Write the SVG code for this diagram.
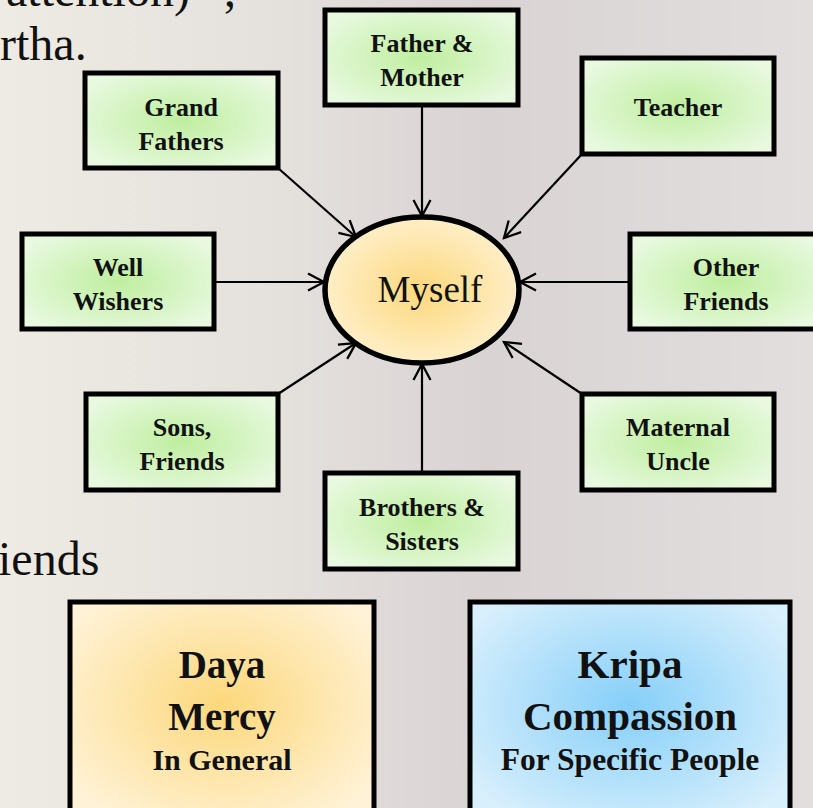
<svg xmlns="http://www.w3.org/2000/svg" width="813" height="808" viewBox="0 0 813 808">
<defs>
<linearGradient id="bg" x1="0" y1="0" x2="1" y2="0">
<stop offset="0" stop-color="#eeebe4"/>
<stop offset="0.35" stop-color="#e4e0dc"/>
<stop offset="0.6" stop-color="#d9d3d4"/>
<stop offset="1" stop-color="#e2dede"/>
</linearGradient>
<radialGradient id="green" cx="0.5" cy="0.5" r="0.6">
<stop offset="0" stop-color="#bfee9f"/>
<stop offset="1" stop-color="#e8f9e0"/>
</radialGradient>
<radialGradient id="gold" cx="0.5" cy="0.5" r="0.55">
<stop offset="0" stop-color="#fcd87c"/>
<stop offset="1" stop-color="#fff1cf"/>
</radialGradient>
<radialGradient id="gold2" cx="0.5" cy="0.45" r="0.6">
<stop offset="0" stop-color="#fcd87c"/>
<stop offset="1" stop-color="#fff2d6"/>
</radialGradient>
<radialGradient id="blue" cx="0.5" cy="0.45" r="0.6">
<stop offset="0" stop-color="#85cff8"/>
<stop offset="1" stop-color="#d8effc"/>
</radialGradient>
<marker id="arr" markerWidth="22" markerHeight="22" refX="17" refY="10" orient="auto" markerUnits="userSpaceOnUse">
<path d="M1,1.5 L17,10 L1,18.5" fill="none" stroke="#000" stroke-width="2.3"/>
</marker>
</defs>
<style>
.box{fill:url(#green);stroke:#000;stroke-width:5}
.lbl{font-family:"Liberation Serif","DejaVu Serif",serif;font-weight:bold;font-size:26px;text-anchor:middle;fill:#111}
.bg{font-family:"Liberation Serif","DejaVu Serif",serif;font-size:48px;fill:#111}
.big{font-family:"Liberation Serif","DejaVu Serif",serif;font-weight:bold;font-size:39px;text-anchor:middle;fill:#111}
.big2{font-size:41px}
.sub{font-family:"Liberation Serif","DejaVu Serif",serif;font-weight:bold;font-size:30px;text-anchor:middle;fill:#111}
.sub2{font-size:31.5px}
.con{stroke:#000;stroke-width:2.2;fill:none;marker-end:url(#arr)}
</style>
<rect x="0" y="0" width="813" height="808" fill="url(#bg)"/>
<text class="bg" x="-22" y="6">r attention)” ;</text>
<text class="bg" x="0" y="60">rtha.</text>
<text class="bg" x="-2" y="575">iends</text>

<g id="connectors">
<line class="con" x1="422" y1="105" x2="422" y2="216"/>
<line class="con" x1="422" y1="473" x2="422" y2="364"/>
<line class="con" x1="214" y1="282" x2="324" y2="282"/>
<line class="con" x1="630" y1="282" x2="520" y2="282"/>
<line class="con" x1="278" y1="168" x2="356" y2="237"/>
<line class="con" x1="582" y1="154" x2="504" y2="238"/>
<line class="con" x1="278" y1="394" x2="356" y2="343"/>
<line class="con" x1="582" y1="394" x2="504" y2="342"/>
</g>

<g id="myself">
<ellipse cx="422" cy="290" rx="97" ry="73" fill="url(#gold)" stroke="#000" stroke-width="5.5"/>
<text x="430" y="302" font-family="Liberation Serif, DejaVu Serif, serif" font-size="37" text-anchor="middle" fill="#111">Myself</text>
</g>

<g id="father-mother">
<rect class="box" x="325" y="10" width="193" height="95"/>
<text class="lbl" x="422" y="52">Father &amp;</text>
<text class="lbl" x="422" y="86">Mother</text>
</g>
<g id="grand-fathers">
<rect class="box" x="85" y="73" width="193" height="95"/>
<text class="lbl" x="181" y="116">Grand</text>
<text class="lbl" x="181" y="150">Fathers</text>
</g>
<g id="teacher">
<rect class="box" x="582" y="58" width="192" height="96"/>
<text class="lbl" x="678" y="116">Teacher</text>
</g>
<g id="well-wishers">
<rect class="box" x="22" y="234" width="192" height="95"/>
<text class="lbl" x="118" y="276">Well</text>
<text class="lbl" x="118" y="310">Wishers</text>
</g>
<g id="other-friends">
<rect class="box" x="630" y="234" width="193" height="95"/>
<text class="lbl" x="726" y="276">Other</text>
<text class="lbl" x="726" y="310">Friends</text>
</g>
<g id="sons-friends">
<rect class="box" x="86" y="394" width="192" height="96"/>
<text class="lbl" x="182" y="436">Sons,</text>
<text class="lbl" x="182" y="470">Friends</text>
</g>
<g id="maternal-uncle">
<rect class="box" x="582" y="394" width="192" height="96"/>
<text class="lbl" x="678" y="436">Maternal</text>
<text class="lbl" x="678" y="470">Uncle</text>
</g>
<g id="brothers-sisters">
<rect class="box" x="325" y="473" width="193" height="96"/>
<text class="lbl" x="422" y="516">Brothers &amp;</text>
<text class="lbl" x="422" y="550">Sisters</text>
</g>

<g id="daya">
<rect x="70" y="602" width="304" height="230" fill="url(#gold2)" stroke="#000" stroke-width="5"/>
<text class="big" x="222" y="678">Daya</text>
<text class="big" x="222" y="730">Mercy</text>
<text class="sub" x="222" y="770">In General</text>
</g>
<g id="kripa">
<rect x="470" y="602" width="320" height="230" fill="url(#blue)" stroke="#000" stroke-width="5"/>
<text class="big big2" x="630" y="678">Kripa</text>
<text class="big big2" x="630" y="730">Compassion</text>
<text class="sub sub2" x="630" y="770">For Specific People</text>
</g>
</svg>
